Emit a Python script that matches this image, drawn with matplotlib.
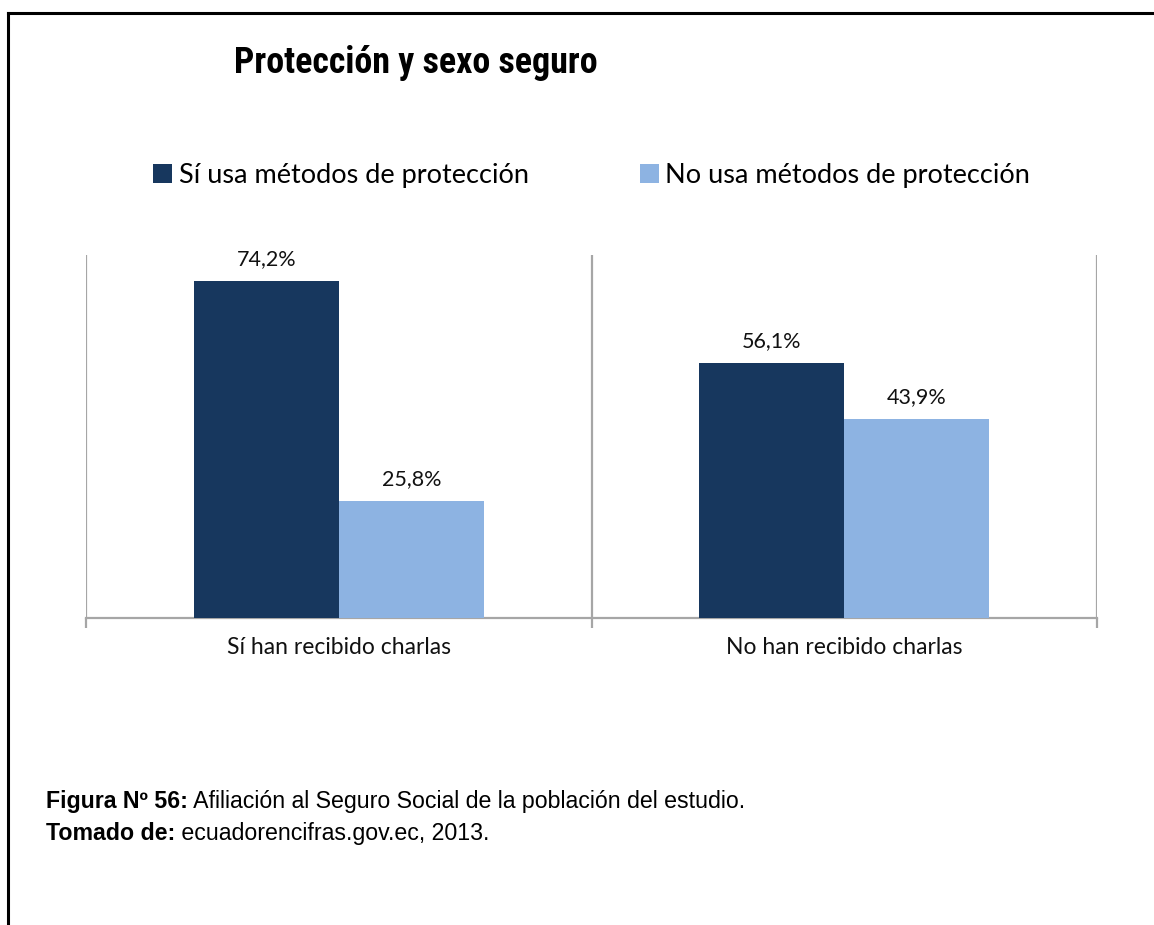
import matplotlib
matplotlib.use('Agg')
import matplotlib.pyplot as plt
from matplotlib import font_manager
from matplotlib.lines import Line2D
from matplotlib.patches import Patch

W, H = 1154, 925

categories = ['Sí han recibido charlas', 'No han recibido charlas']
series = ['Sí usa métodos de protección', 'No usa métodos de protección']
usa = [74.2, 56.1]
no_usa = [25.8, 43.9]
colors = ['#17375e', '#8db3e2']

title = 'Protección y sexo seguro'
fig_label = 'Figura Nº 56:'
fig_text = ' Afiliación al Seguro Social de la población del estudio.'
src_label = 'Tomado de:'
src_text = ' ecuadorencifras.gov.ec, 2013.'

CAL = ['Lato', 'DejaVu Sans']
ARIAL = ['Liberation Sans', 'DejaVu Sans']
GRAY = '#a6a6a6'


def fx(px):
    return px / W


def fy(py):
    return 1 - py / H


def first_font(names):
    for n in names:
        try:
            font_manager.findfont(font_manager.FontProperties(family=n),
                                  fallback_to_default=False)
            return n
        except ValueError:
            continue
    return 'DejaVu Sans'


# narrowest bold sans available for the heading
HEAD = first_font(['Liberation Sans Narrow', 'Roboto Condensed', 'Roboto',
                   'Liberation Sans'])

fig = plt.figure(figsize=(W / 100, H / 100), dpi=100)
fig.patch.set_facecolor('white')

# plot area in pixel terms: x 86..1097, y 255..618
ax = fig.add_axes([fx(86), fy(618), fx(1097 - 86), (618 - 255) / H])
x = list(range(len(categories)))
bw = 0.287
for vals, off, c in [(usa, -bw / 2, colors[0]), (no_usa, bw / 2, colors[1])]:
    bars = ax.bar([i + off for i in x], vals, bw, color=c, zorder=3)
    for b, v in zip(bars, vals):
        ax.annotate(f'{v:.1f}%'.replace('.', ','),
                    (b.get_x() + b.get_width() / 2, v),
                    xytext=(0, 11.5), textcoords='offset points',
                    ha='center', va='baseline', fontsize=15.5,
                    family=CAL, color='#111111')

ax.set_xlim(-0.5, len(categories) - 0.5)
ax.set_ylim(0, 80)
for s in ['left', 'right', 'top']:
    ax.spines[s].set_visible(False)
ax.spines['bottom'].set_color(GRAY)
ax.spines['bottom'].set_linewidth(1.6)
for xv in [i - 0.5 for i in range(len(categories) + 1)]:
    ax.axvline(xv, color=GRAY, lw=1.6, zorder=1)
ax.set_yticks([])
ax.set_xticks(x)
ax.set_xticklabels(categories, family=CAL, fontsize=16.5, color='#111111')
ax.set_xticks([i - 0.5 for i in range(len(categories) + 1)], minor=True)
ax.tick_params(axis='x', which='major', length=0, pad=14)
ax.tick_params(axis='x', which='minor', length=7, width=1.6, color=GRAY,
               direction='out')

handles = [Patch(facecolor=c, edgecolor='none') for c in colors]
fig.legend(handles, series, loc='center left',
           bbox_to_anchor=(fx(129), fy(175)), ncol=2, frameon=False,
           prop={'family': CAL, 'size': 19.5}, handlelength=0.7,
           handleheight=0.7, handletextpad=0.25, columnspacing=4.08)

# heading, sized so it spans ~365 px
tt = fig.text(fx(416), fy(73), title, ha='center', va='baseline',
              fontsize=27, fontweight='bold', family=[HEAD, 'DejaVu Sans'])
r = fig.canvas.get_renderer()
wpx = tt.get_window_extent(r).width
tt.set_fontsize(min(27, 27 * 365 / wpx))

# caption lines: bold lead-in followed by regular text
for lead, rest, ypx in [(fig_label, fig_text, 808), (src_label, src_text, 840)]:
    t = fig.text(fx(46), fy(ypx), lead, ha='left', va='baseline',
                 fontsize=16.7, fontweight='bold', family=ARIAL)
    ax.annotate(rest, xy=(1, 0), xycoords=t, ha='left', va='bottom',
                fontsize=16.7, family=ARIAL, annotation_clip=False)

# page frame
fig.add_artist(Line2D([fx(8), 1], [fy(13), fy(13)], transform=fig.transFigure,
                      color='black', lw=2.2))
fig.add_artist(Line2D([fx(8), fx(8)], [0, fy(13)], transform=fig.transFigure,
                      color='black', lw=2.2))

fig.savefig('out.png', dpi=100)
